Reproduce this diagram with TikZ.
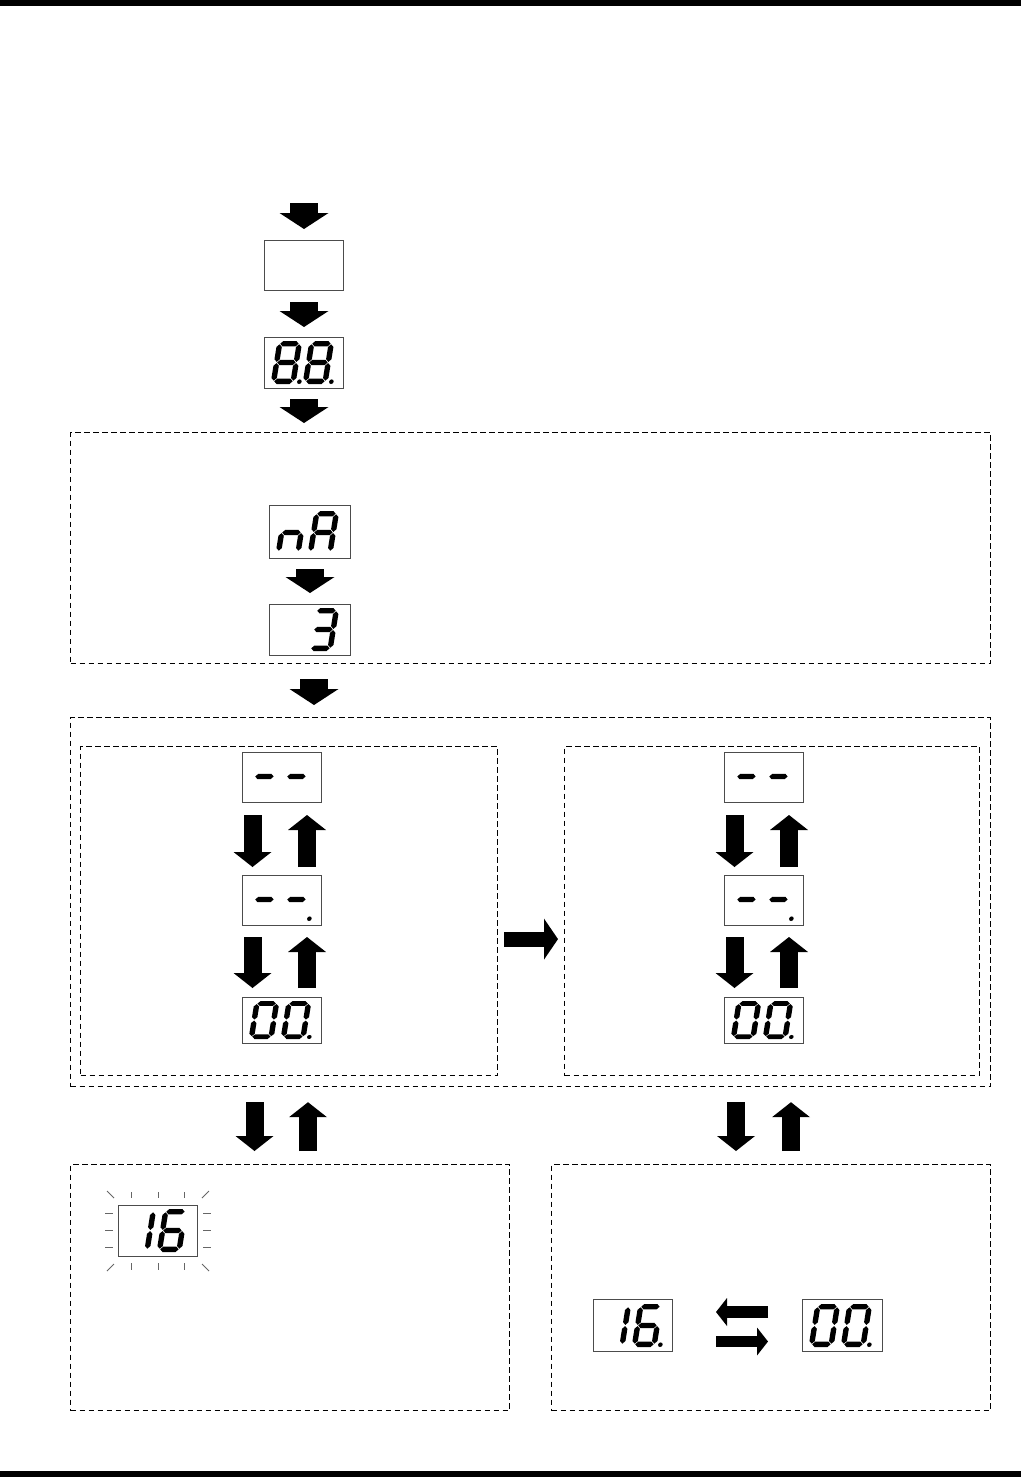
\documentclass[tikz,border=0pt]{standalone}
\usetikzlibrary{arrows.meta,calc}
\tikzset{
  dbox/.style={draw=black, line width=1.2pt, dash pattern=on 5.5pt off 3.5pt, inner sep=0pt, anchor=north west},
  dispbox/.style={draw=black!70, line width=1pt, inner sep=0pt, anchor=north west},
  bigarr/.style={line width=28pt, -{Triangle[length=16pt 0 0, width=49pt 0 0, line width=0pt 0 0]}},
  pairarr/.style={line width=18pt, -{Triangle[length=15pt 0 0, width=38pt 0 0, line width=0pt 0 0]}},
  harr/.style={line width=15pt, -{Triangle[length=14pt 0 0, width=41pt 0 0, line width=0pt 0 0]}},
  swarr/.style={line width=11.5pt, -{Triangle[length=11pt 0 0, width=28pt 0 0, line width=0pt 0 0]}},
  ray/.style={draw=black!60, line width=0.8pt}
}
% seven-segment pieces (local coords, origin bottom-left, y downward)
\def\hh{2.7}
\newcommand\hsg[3]{\fill ({#1},{#3}) -- ({#1+\hh},{#3-\hh}) -- ({#2-\hh},{#3-\hh}) -- ({#2},{#3}) -- ({#2-\hh},{#3+\hh}) -- ({#1+\hh},{#3+\hh}) -- cycle;}
\newcommand\vsg[3]{\fill ({#1},{#2}) -- ({#1+\hh},{#2+\hh}) -- ({#1+\hh},{#3-\hh}) -- ({#1},{#3}) -- ({#1-\hh},{#3-\hh}) -- ({#1-\hh},{#2+\hh}) -- cycle;}
\newcommand\SA{\hsg{3.3}{21.7}{-40.3}}
\newcommand\SG{\hsg{3.3}{21.7}{-21.5}}
\newcommand\SD{\hsg{3.3}{21.7}{-2.7}}
\newcommand\SF{\vsg{2.7}{-39.7}{-22.1}}
\newcommand\SB{\vsg{22.3}{-39.7}{-22.1}}
\newcommand\SE{\vsg{2.7}{-20.9}{-3.3}}
\newcommand\SC{\vsg{22.3}{-20.9}{-3.3}}
\newcommand\SP{\fill (28.5,-2.3) circle (2.3);}
\newcommand\dig[4]{\begin{scope}[shift={(#1,#2)},xslant=0.16,yscale=#3]#4\end{scope}}
% name, x, y(top), w, h, scale, digit1, digit2
\newcommand\disp[8]{%
  \node[dispbox, minimum width=#4pt, minimum height=#5pt] (#1) at (#2,#3) {};
  \dig{#2+6.5}{#3+#5-4}{#6}{#7}
  \dig{#2+38.5}{#3+#5-4}{#6}{#8}}
\begin{document}
\begin{tikzpicture}[x=1pt,y=-1pt]
\useasboundingbox (0,0) rectangle (1021,1477);
\fill (0,0) rectangle (1021,6);
\fill (0,1471) rectangle (1021,1477);

% dashed frames
\node[dbox, minimum width=920pt, minimum height=231pt] (dbox1) at (70,432) {};
\node[dbox, minimum width=920pt, minimum height=369pt] (dbox2) at (70,717) {};
\node[dbox, minimum width=417pt, minimum height=329pt] (innerL) at (80,746) {};
\node[dbox, minimum width=415pt, minimum height=329pt] (innerR) at (564,746) {};
\node[dbox, minimum width=439pt, minimum height=246pt] (dbox3) at (70,1164) {};
\node[dbox, minimum width=439pt, minimum height=246pt] (dbox4) at (551,1164) {};

% displays
\node[dispbox, minimum width=79pt, minimum height=50pt] (d0) at (264,240) {};
\disp{d88}{264}{337}{79}{51}{1}{\SA\SB\SC\SD\SE\SF\SG\SP}{\SA\SB\SC\SD\SE\SF\SG\SP}
\disp{dnA}{269}{505}{81}{53}{1}{\SE\SG\SC}{\SA\SB\SC\SE\SF\SG}
\disp{d3}{269}{604}{81}{51}{1}{}{\SA\SB\SG\SC\SD}
\disp{dLa}{242}{752}{79}{50}{1}{\SG}{\SG}
\disp{dLb}{242}{875}{79}{50}{1}{\SG}{\SG\SP}
\disp{dLc}{242}{997}{79}{46}{0.88}{\SA\SB\SC\SD\SE\SF}{\SA\SB\SC\SD\SE\SF\SP}
\disp{dRa}{724}{752}{79}{50}{1}{\SG}{\SG}
\disp{dRb}{724}{875}{79}{50}{1}{\SG}{\SG\SP}
\disp{dRc}{724}{997}{79}{46}{0.88}{\SA\SB\SC\SD\SE\SF}{\SA\SB\SC\SD\SE\SF\SP}
\disp{dBlink}{118}{1205}{79}{51}{1}{\SB\SC}{\SA\SF\SG\SE\SD\SC}
\disp{d16}{593}{1299}{79}{52}{1}{\SB\SC}{\SA\SF\SG\SE\SD\SC\SP}
\disp{d00}{802}{1299}{80}{52}{1}{\SA\SB\SC\SD\SE\SF}{\SA\SB\SC\SD\SE\SF\SP}

% blinking rays
\foreach \dx in {13,40,66} {
  \draw[ray] ($(dBlink.north west)+(\dx,-13)$) -- ($(dBlink.north west)+(\dx,-7)$);
  \draw[ray] ($(dBlink.south west)+(\dx,6)$) -- ($(dBlink.south west)+(\dx,13)$);
}
\foreach \dy in {8,25,42} {
  \draw[ray] ($(dBlink.north west)+(-13,\dy)$) -- ($(dBlink.north west)+(-5,\dy)$);
  \draw[ray] ($(dBlink.north east)+(5,\dy)$) -- ($(dBlink.north east)+(13,\dy)$);
}
\draw[ray] ($(dBlink.north west)+(-11,-14)$) -- ($(dBlink.north west)+(-4,-7)$);
\draw[ray] ($(dBlink.north east)+(4,-7)$) -- ($(dBlink.north east)+(11,-14)$);
\draw[ray] ($(dBlink.south west)+(-11,14)$) -- ($(dBlink.south west)+(-4,7)$);
\draw[ray] ($(dBlink.south east)+(4,7)$) -- ($(dBlink.south east)+(11,14)$);

% main flow arrows
\coordinate (start) at ($(d0.north)+(0,-37)$);
\draw[bigarr, shorten >=11pt] (start) -- (d0.north);
\draw[bigarr, shorten <=11pt, shorten >=10pt] (d0.south) -- (d88.north);
\draw[bigarr, shorten <=10pt, shorten >=9pt] (d88.south) -- (d88.south |- dbox1.north);
\draw[bigarr, shorten <=10pt, shorten >=11pt] (dnA.south) -- (d3.north);
\draw[bigarr, shorten <=15pt, shorten >=12pt] ($(d3.south |- dbox1.south)+(4,0)$) -- ($(d3.south |- dbox2.north)+(4,0)$);

% pairs inside left/right frames
\foreach \a/\b/\c in {dLa/dLb/dLc, dRa/dRb/dRc} {
  \draw[pairarr, shorten <=12pt, shorten >=8pt] ($(\a.south)+(-29.5,0)$) -- ($(\b.north)+(-29.5,0)$);
  \draw[pairarr, shorten <=8pt, shorten >=12pt] ($(\b.north)+(25,0)$) -- ($(\a.south)+(25,0)$);
  \draw[pairarr, shorten <=11pt, shorten >=9pt] ($(\b.south)+(-29.5,0)$) -- ($(\c.north)+(-29.5,0)$);
  \draw[pairarr, shorten <=9pt, shorten >=11pt] ($(\c.north)+(25,0)$) -- ($(\b.south)+(25,0)$);
}
\draw[harr, shorten <=6pt, shorten >=6pt] ($(innerL.east)+(0,28)$) -- ($(innerR.west)+(0,28)$);

% pairs to lower frames
\draw[pairarr, shorten <=15pt, shorten >=13pt] ($(dLc.south |- dbox2.south)+(-27.5,0)$) -- ($(dLc.south |- dbox3.north)+(-27.5,0)$);
\draw[pairarr, shorten <=13pt, shorten >=15pt] ($(dLc.south |- dbox3.north)+(26,0)$) -- ($(dLc.south |- dbox2.south)+(26,0)$);
\draw[pairarr, shorten <=15pt, shorten >=13pt] ($(dRc.south |- dbox2.south)+(-28,0)$) -- ($(dRc.south |- dbox4.north)+(-28,0)$);
\draw[pairarr, shorten <=13pt, shorten >=15pt] ($(dRc.south |- dbox4.north)+(27,0)$) -- ($(dRc.south |- dbox2.south)+(27,0)$);

% swap arrows
\draw[swarr, shorten <=34pt, shorten >=43pt] ($(d00.west)+(0,-13.5)$) -- ($(d16.east)+(0,-13.5)$);
\draw[swarr, shorten <=43pt, shorten >=34pt] ($(d16.east)+(0,16)$) -- ($(d00.west)+(0,16)$);
\end{tikzpicture}
\end{document}
